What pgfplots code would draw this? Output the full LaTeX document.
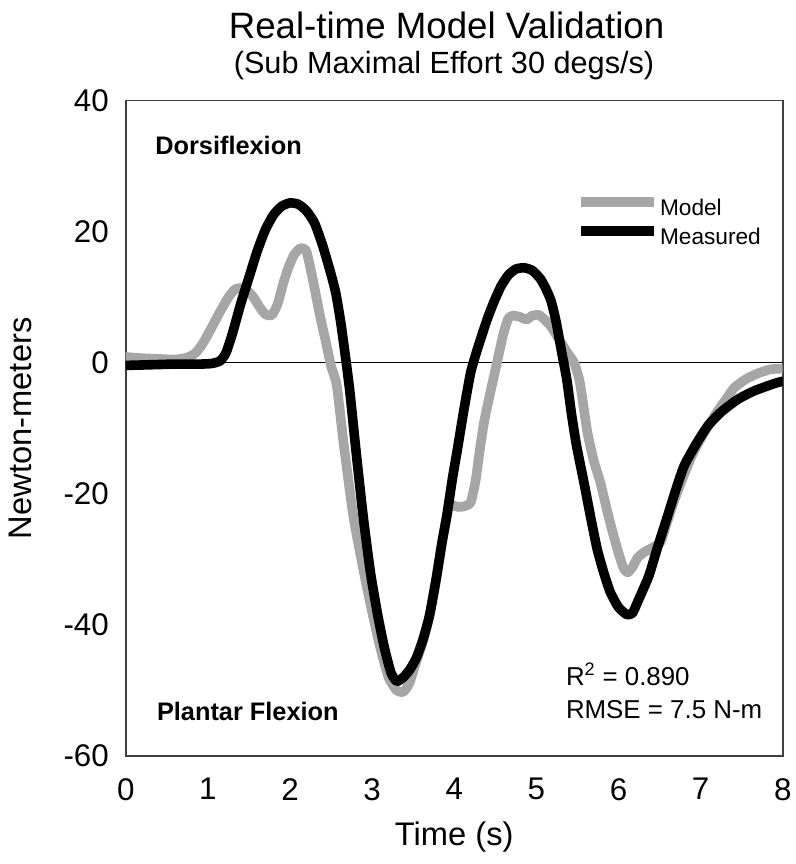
\documentclass[border=0pt]{standalone}
\usepackage{pgfplots}
\pgfplotsset{compat=1.18}
\usepackage{fontspec}
\setmainfont{Liberation Sans}
\definecolor{modelgray}{RGB}{166,166,166}
\definecolor{framegray}{RGB}{64,64,64}

\pgfplotstableread{
t v
0 0.9
0.2 0.7
0.4 0.6
0.6 0.5
0.75 0.8
0.85 1.5
0.93 2.8
1.03 5
1.14 7.6
1.25 10
1.33 11.2
1.41 11.4
1.48 11
1.55 10.1
1.63 8.5
1.7 7.4
1.78 7.3
1.85 9
1.92 12.2
1.98 14.5
2.05 16.5
2.13 17.5
2.2 17
2.28 12.6
2.36 7.5
2.44 3.0
2.5 -0.5
2.57 -3.5
2.65 -12
2.77 -23.3
2.9 -32
3.01 -38.6
3.1 -43.5
3.2 -48
3.3 -50
3.38 -50.2
3.45 -49
3.54 -45.5
3.62 -42.5
3.7 -38.5
3.78 -33
3.85 -27.5
3.93 -22.3
3.99 -21.8
4.05 -22
4.12 -21.9
4.2 -21.3
4.26 -18
4.32 -12.5
4.37 -8.6
4.44 -4.5
4.52 0
4.6 4.5
4.66 6.8
4.72 7.2
4.8 7.0
4.88 6.6
4.95 7.2
5.03 7.3
5.1 6.6
5.18 5.5
5.28 3.5
5.38 1.5
5.46 0
5.53 -3
5.62 -10.5
5.7 -15
5.78 -18.3
5.86 -22.5
5.93 -25.9
6.0 -29
6.06 -31.3
6.11 -32
6.17 -31.2
6.23 -29.8
6.3 -29
6.4 -28.3
6.51 -27.4
6.6 -24
6.68 -21
6.76 -18.3
6.9 -14
7.05 -10.5
7.2 -7.5
7.33 -5.2
7.41 -3.8
7.55 -2.5
7.7 -1.6
7.85 -1.0
7.97 -0.9
}\modeldata

\pgfplotstableread{
t v
0 -0.4
0.3 -0.3
0.6 -0.2
0.9 -0.2
1.05 -0.1
1.15 0.3
1.22 1.5
1.3 4.5
1.4 9
1.5 13
1.6 17
1.7 20.3
1.8 22.6
1.9 23.9
2.0 24.4
2.1 24.2
2.2 23.2
2.3 21.3
2.4 17.8
2.5 13.5
2.56 10.5
2.62 6
2.68 0.5
2.73 -4.5
2.8 -13
2.89 -23.3
2.98 -32
3.07 -38.6
3.15 -43.5
3.23 -47.3
3.30 -48.6
3.38 -48.0
3.46 -46.8
3.54 -45
3.62 -42.2
3.7 -38.5
3.78 -33
3.85 -27.5
3.91 -23.3
3.98 -17.5
4.04 -13.1
4.12 -7
4.2 -1.5
4.28 2
4.40 6.6
4.48 9.2
4.57 11.7
4.66 13.4
4.75 14.3
4.85 14.5
4.95 14.1
5.05 12.8
5.12 11.2
5.18 9.4
5.24 6.3
5.31 1.5
5.37 -2.5
5.43 -8
5.49 -12.7
5.58 -18.3
5.66 -23.5
5.74 -28.4
5.82 -32
5.9 -35
6.0 -37.3
6.1 -38.4
6.17 -38.2
6.25 -36
6.37 -32.5
6.48 -28
6.6 -23.3
6.7 -19.3
6.8 -15.7
6.95 -12.3
7.09 -9.6
7.25 -7.5
7.45 -5.6
7.65 -4.3
7.89 -3.2
8.0 -2.8
}\measureddata

\begin{document}
\begin{tikzpicture}
\path[use as bounding box] (-94.3pt,-81pt) rectangle (502pt,567pt);
\begin{axis}[
  at={(0pt,0pt)}, anchor=south west,
  scale only axis, width=492.75pt, height=491.5pt,
  xmin=0, xmax=8, ymin=-60, ymax=40,
  xtick={0,1,2,3,4,5,6,7,8},
  xticklabels={0,1,2,3,4,5,6,7,8},
  ytick={-60,-40,-20,0,20,40},
  yticklabels={-60,-40,-20,0,20,40},
  major tick length=0pt,
  axis line style={framegray, line width=1.2pt},
  tick label style={font=\fontsize{23.5}{27}\selectfont},
  xticklabel style={inner sep=0pt, anchor=north, yshift=-16.5pt},
  yticklabel style={inner sep=0pt, anchor=east, xshift=-12.5pt},
  xlabel={Time (s)},
  ylabel={Newton-meters},
  label style={font=\fontsize{24.5}{29}\selectfont},
  xlabel style={at={(axis description cs:0.5,-0.1236)}, anchor=center},
  ylabel style={at={(axis description cs:-0.1609,0.5)}, anchor=center},
  legend style={draw=none, fill=none, inner sep=0pt, outer sep=0pt,
    at={(rel axis cs:0.686,0.8524)}, anchor=north west,
    row sep=4.5pt, column sep=1pt,
    nodes={inner sep=0pt, font=\fontsize{17}{20}\selectfont, text height=12pt, text depth=3.5pt}},
  legend cell align=left,
  legend image code/.code={\draw[#1, line cap=butt] (0pt,5.9pt) -- (54.5pt,5.9pt);},
]
\addplot[black, line width=0.9pt, forget plot] coordinates {(0,0) (8,0)};
\addplot[modelgray, line width=7.2pt, line join=round, line cap=round, smooth, tension=0.35] table[x=t, y=v] {\modeldata};
\addlegendentry{Model}
\addplot[black, line width=7.2pt, line join=round, line cap=round, smooth, tension=0.35] table[x=t, y=v] {\measureddata};
\addlegendentry{Measured}
\end{axis}
\node[anchor=base, font=\fontsize{27.5}{32}\selectfont] at (240.6pt,538pt) {Real-time Model Validation};
\node[anchor=base, font=\fontsize{23}{27}\selectfont] at (238.7pt,511.5pt) {(Sub Maximal Effort 30 degs/s)};
\node[anchor=base west, inner sep=0pt, font=\bfseries\fontsize{19}{23}\selectfont] at (22pt,450.75pt) {Dorsiflexion};
\node[anchor=base west, inner sep=0pt, font=\bfseries\fontsize{19}{23}\selectfont] at (23.25pt,27pt) {Plantar Flexion};
\node[anchor=base west, inner sep=0pt, font=\fontsize{19.4}{23}\selectfont] at (330pt,52.5pt) {R\textsuperscript{2} = 0.890};
\node[anchor=base west, inner sep=0pt, font=\fontsize{19.4}{23}\selectfont] at (330pt,28.1pt) {RMSE = 7.5 N-m};
\end{tikzpicture}
\end{document}
